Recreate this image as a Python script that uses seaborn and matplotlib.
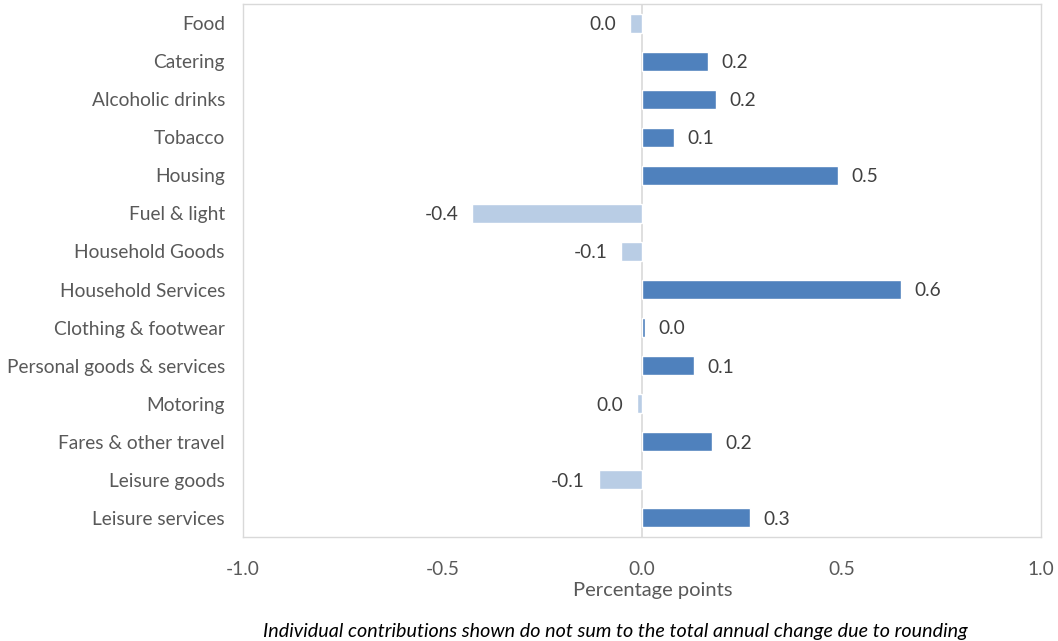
import matplotlib
matplotlib.use("Agg")
import matplotlib.pyplot as plt
import seaborn as sns
import pandas as pd

categories = ["Food", "Catering", "Alcoholic drinks", "Tobacco", "Housing",
              "Fuel & light", "Household Goods", "Household Services",
              "Clothing & footwear", "Personal goods & services", "Motoring",
              "Fares & other travel", "Leisure goods", "Leisure services"]
contributions = [-0.03, 0.165, 0.185, 0.08, 0.49, -0.425, -0.052, 0.648,
                 0.007, 0.13, -0.013, 0.175, -0.108, 0.27]
x_ticks = [-1.0, -0.5, 0.0, 0.5, 1.0]

sns.set_theme(style="white")
plt.rcParams["font.family"] = ["Lato", "DejaVu Sans"]

df = pd.DataFrame({"category": categories, "value": contributions})
df["sign"] = ["pos" if v >= 0 else "neg" for v in df["value"]]

fig = plt.figure(figsize=(10.58, 6.41), dpi=100)
ax = fig.add_axes([243 / 1058, 1 - 537 / 641, (1041 - 243) / 1058, (537 - 4) / 641])

sns.barplot(data=df, x="value", y="category", hue="sign", orient="h",
            palette={"pos": "#4F81BD", "neg": "#B9CDE5"}, dodge=False,
            width=0.5, legend=False, ax=ax, saturation=1)

ax.set_xlim(-1.0, 1.0)
ax.set_ylim(len(categories) - 0.5, -0.5)
ax.set_xticks(x_ticks)
ax.set_xticklabels([f"{t:.1f}" for t in x_ticks])
ax.axvline(0, color="#D9D9D9", lw=1.2, zorder=0)

for spine in ax.spines.values():
    spine.set_color("#D9D9D9")
    spine.set_linewidth(1.0)

ax.tick_params(axis="both", length=0, colors="#595959", labelsize=13.8)
ax.tick_params(axis="x", pad=17)
ax.tick_params(axis="y", pad=13)
ax.set_ylabel("")
ax.set_xlabel("Percentage points", fontsize=14.5, color="#595959")
ax.xaxis.set_label_coords(0.514, -0.085)

for i, v in enumerate(df["value"]):
    label = f"{round(v, 1) + 0.0:.1f}"
    if v >= 0:
        ax.annotate(label, (v, i), xytext=(10, -1), textcoords="offset points",
                    ha="left", va="center", fontsize=13.8, color="#404040")
    else:
        ax.annotate(label, (v, i), xytext=(-10, -1), textcoords="offset points",
                    ha="right", va="center", fontsize=13.8, color="#404040")

fig.text(615 / 1058, 1 - 631 / 641,
         "Individual contributions shown do not sum to the total annual change due to rounding",
         ha="center", va="center", fontsize=14.2, style="italic", color="#000000")

fig.savefig("out.png", dpi=100)
